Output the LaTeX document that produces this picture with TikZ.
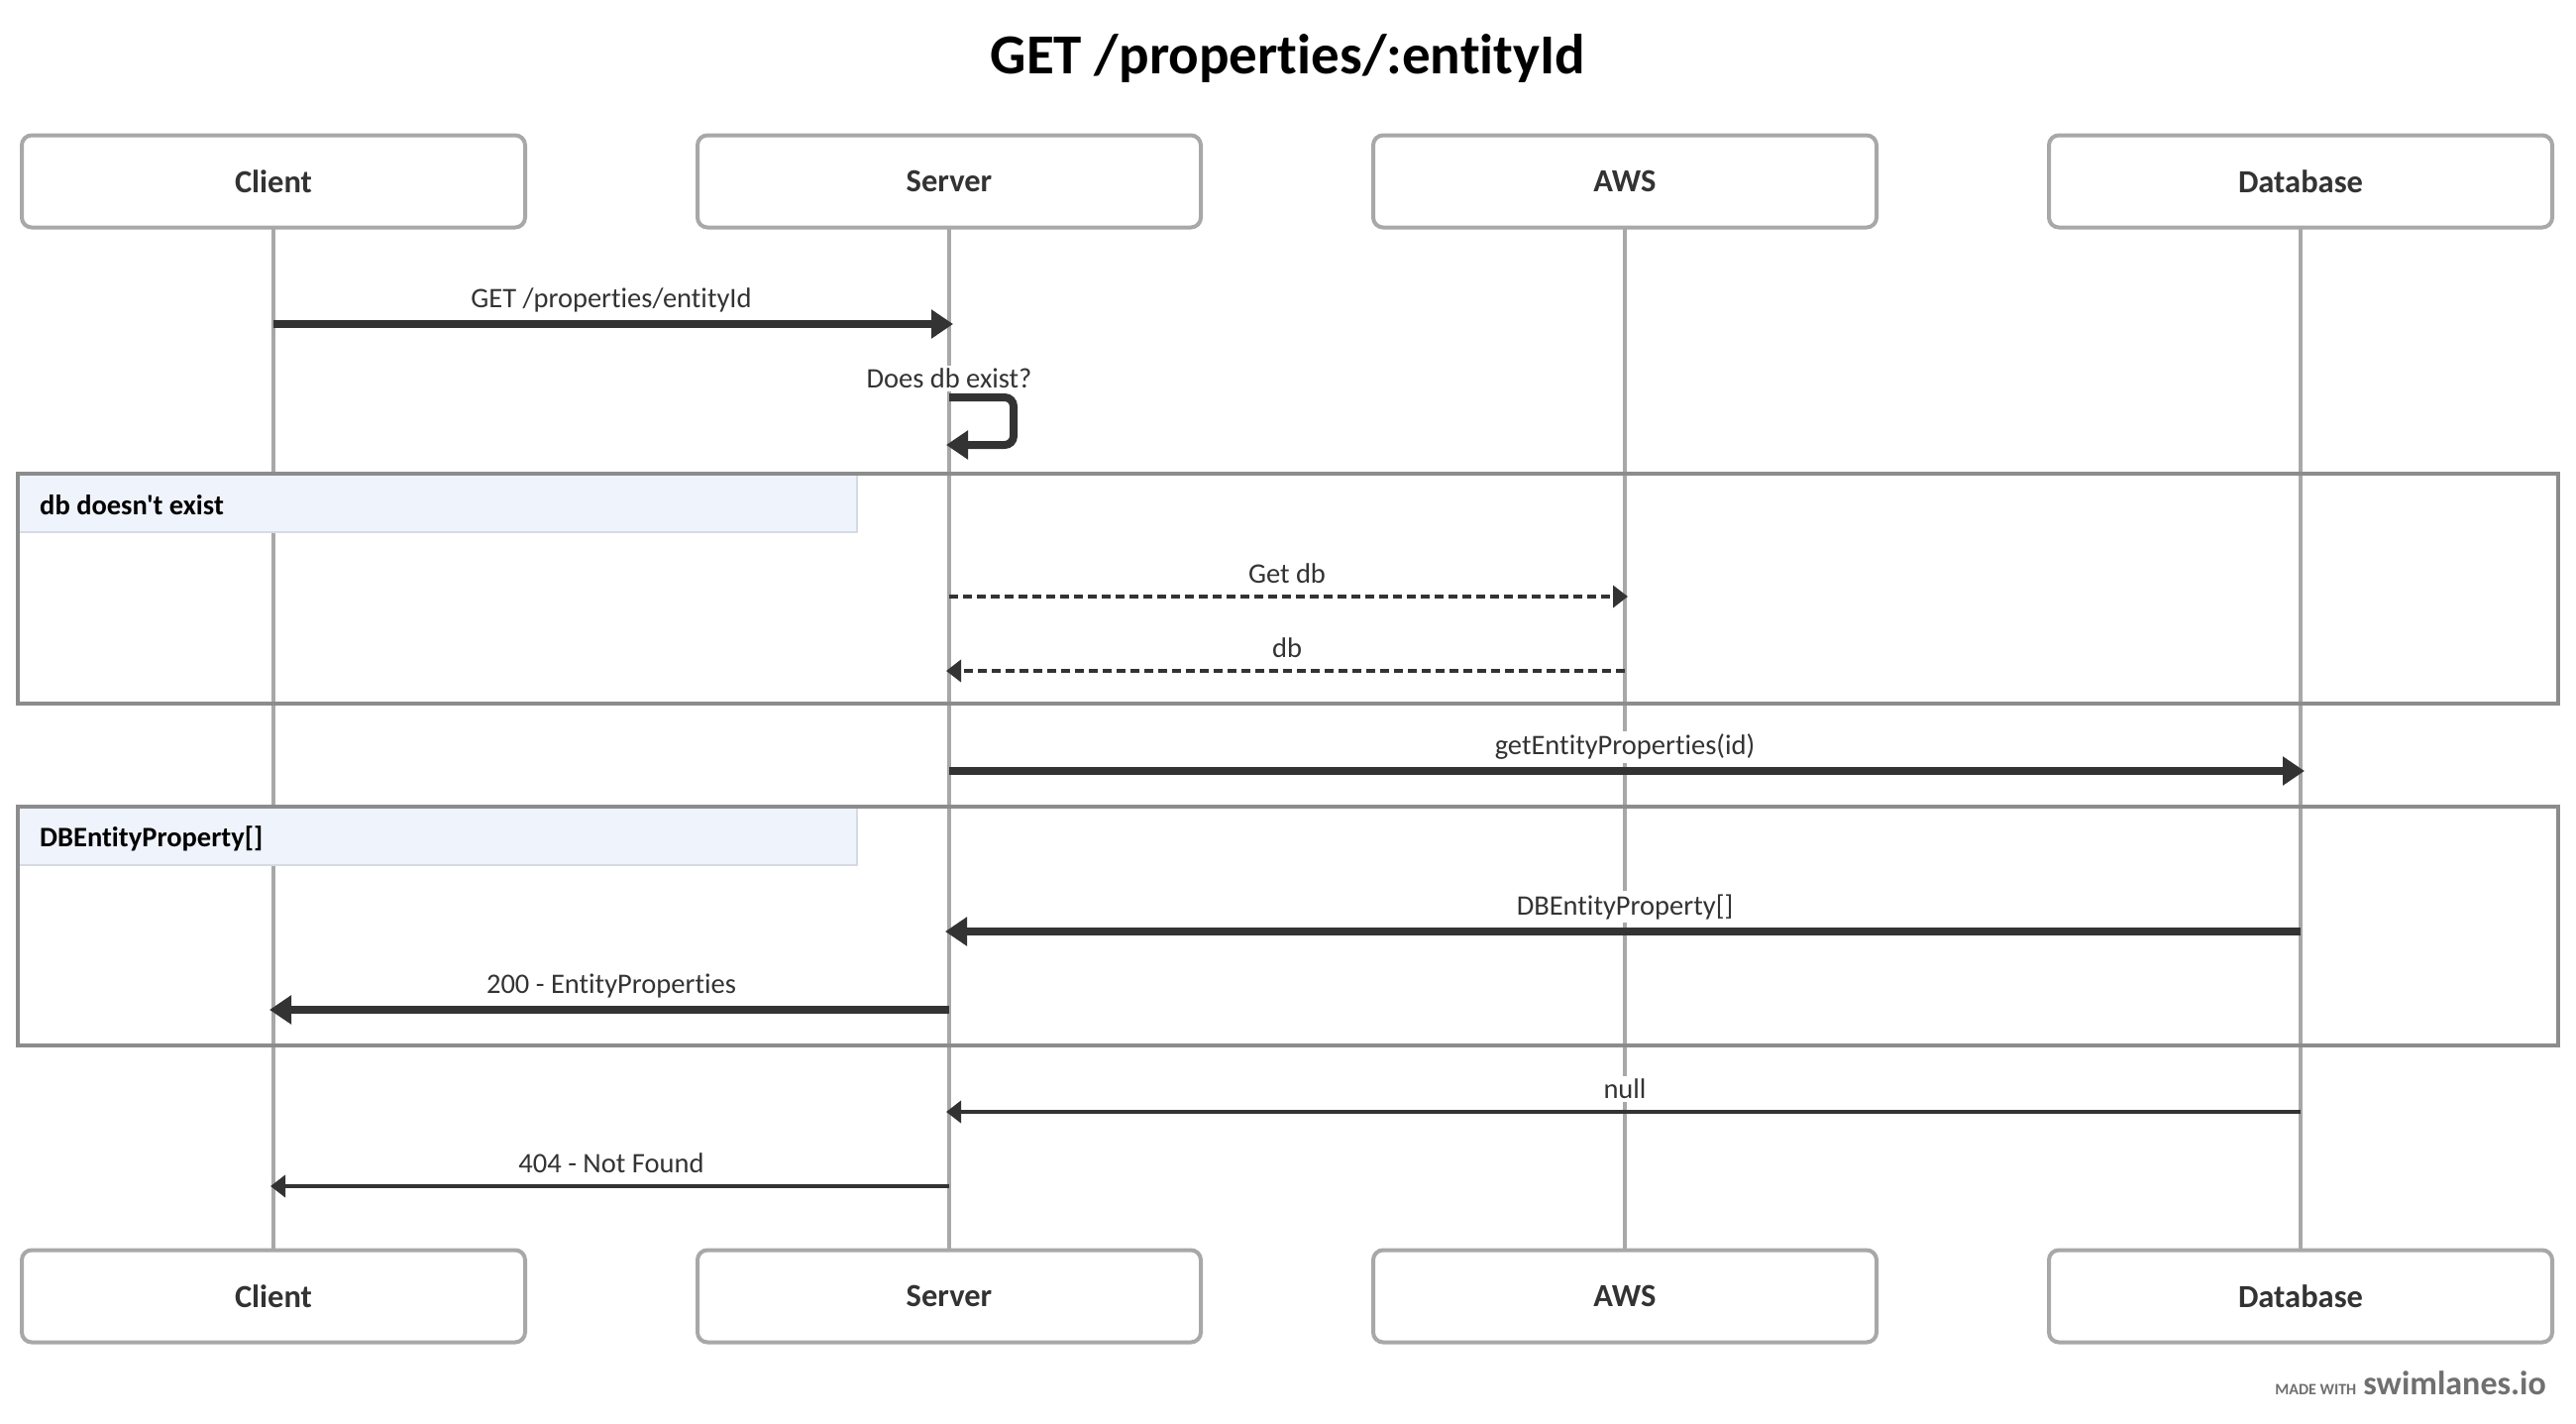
\documentclass[tikz,border=0pt]{standalone}
\usepackage{fontspec}
\newfontfamily\diagfont{Carlito}[Ligatures=NoCommon]
\usetikzlibrary{arrows.meta}
\definecolor{ink}{HTML}{333333}
\definecolor{lifegray}{HTML}{A8A8A8}
\definecolor{framegray}{HTML}{8C8C8C}
\definecolor{bandfill}{HTML}{EFF3FB}
\definecolor{bandline}{HTML}{D6DAE4}
\definecolor{wm}{HTML}{707070}
\tikzset{
  actor/.style={draw=lifegray, line width=4pt, rounded corners=10pt, fill=white,
    minimum width=508pt, minimum height=93pt, text=ink,
    font=\diagfont\fontsize{32.5}{36}\selectfont\bfseries},
  lifeline/.style={draw=lifegray, line width=3.5pt},
  framebox/.style={draw=framegray, line width=4pt},
  band/.style={fill=bandfill, draw=bandline, line width=1.5pt},
  bandlabel/.style={anchor=west, text=black, inner sep=0pt,
    font=\diagfont\fontsize{28.5}{32}\selectfont\bfseries},
  msglabel/.style={fill=white, inner sep=3pt, text=ink,
    font=\diagfont\fontsize{28.5}{32}\selectfont},
  bigarrow/.style={draw=ink, line width=8pt, -{Triangle[length=22pt,width=28pt]}},
  thinarrow/.style={draw=ink, line width=4pt, -{Triangle[length=15pt,width=22pt]}},
  dasharrow/.style={draw=ink, line width=4pt, dash pattern=on 9pt off 5pt,
    -{Triangle[length=15pt,width=22pt]}},
}
\begin{document}
\begin{tikzpicture}[x=1pt,y=-1pt]
\useasboundingbox[fill=white] (0,0) rectangle (2600,1436);

% title
\node[font=\diagfont\fontsize{57}{64}\selectfont\bfseries, text=black] (title) at (1300,59) {GET /properties/:entityId};

% lifeline x: 276, 958, 1640, 2322
\coordinate (cT) at (276,229); \coordinate (cB) at (276,1262);
\coordinate (sT) at (958,229); \coordinate (sB) at (958,1262);
\coordinate (aT) at (1640,229); \coordinate (aB) at (1640,1262);
\coordinate (dT) at (2322,229); \coordinate (dB) at (2322,1262);
\draw[lifeline] (cT) -- (cB);
\draw[lifeline] (sT) -- (sB);
\draw[lifeline] (aT) -- (aB);
\draw[lifeline] (dT) -- (dB);

% frames
\draw[band] (18,478) rectangle (865,537);
\node[bandlabel] (f1label) at (40,510) {db doesn't exist};
\draw[framebox] (18,478) rectangle (2582,710);

\draw[band] (18,814) rectangle (865,873);
\node[bandlabel] (f2label) at (40,846) {DBEntityProperty[]};
\draw[framebox] (18,814) rectangle (2582,1055);

% actors
\node[actor] (client) at (276,183) {Client};
\node[actor] (server) at (958,183) {Server};
\node[actor] (aws) at (1640,183) {AWS};
\node[actor] (db) at (2322,183) {Database};
\node[actor] (client2) at (276,1308) {Client};
\node[actor] (server2) at (958,1308) {Server};
\node[actor] (aws2) at (1640,1308) {AWS};
\node[actor] (db2) at (2322,1308) {Database};

% message endpoints
\coordinate (m1a) at (276,327);  \coordinate (m1b) at (962,327);
\coordinate (m2a) at (958,401);  \coordinate (m2r) at (1023,401);
\coordinate (m2s) at (1023,449); \coordinate (m2b) at (955,449);
\coordinate (m3a) at (958,602);  \coordinate (m3b) at (1643,602);
\coordinate (m4a) at (1640,677); \coordinate (m4b) at (955,677);
\coordinate (m5a) at (958,778);  \coordinate (m5b) at (2326,778);
\coordinate (m6a) at (2322,940); \coordinate (m6b) at (954,940);
\coordinate (m7a) at (958,1019); \coordinate (m7b) at (272,1019);
\coordinate (m8a) at (2322,1122); \coordinate (m8b) at (955,1122);
\coordinate (m9a) at (958,1197); \coordinate (m9b) at (273,1197);

% labels
\node[msglabel] (l1) at (617,303) {GET /properties/entityId};
\node[msglabel] (l2) at (958,382) {Does db exist?};
\node[msglabel] (l3) at (1299,579) {Get db};
\node[msglabel] (l4) at (1299,654) {db};
\node[msglabel] (l5) at (1640,754) {getEntityProperties(id)};
\node[msglabel] (l6) at (1640,915) {DBEntityProperty[]};
\node[msglabel] (l7) at (617,995) {200 - EntityProperties};
\node[msglabel] (l8) at (1640,1099) {null};
\node[msglabel] (l9) at (617,1174) {404 - Not Found};

% arrows
\draw[bigarrow] (m1a) -- (m1b);
\draw[bigarrow, rounded corners=9pt] (m2a) -- (m2r) -- (m2s) -- (m2b);
\draw[dasharrow] (m3a) -- (m3b);
\draw[dasharrow] (m4a) -- (m4b);
\draw[bigarrow] (m5a) -- (m5b);
\draw[bigarrow] (m6a) -- (m6b);
\draw[bigarrow] (m7a) -- (m7b);
\draw[thinarrow] (m8a) -- (m8b);
\draw[thinarrow] (m9a) -- (m9b);

% watermark
\node[anchor=base east, inner sep=0pt, text=wm] (wmark) at (2570,1407)
  {{\diagfont\fontsize{16}{18}\selectfont\bfseries MADE WITH}\hspace{7pt}{\diagfont\fontsize{34}{38}\selectfont\bfseries swimlanes.io}};
\end{tikzpicture}
\end{document}
